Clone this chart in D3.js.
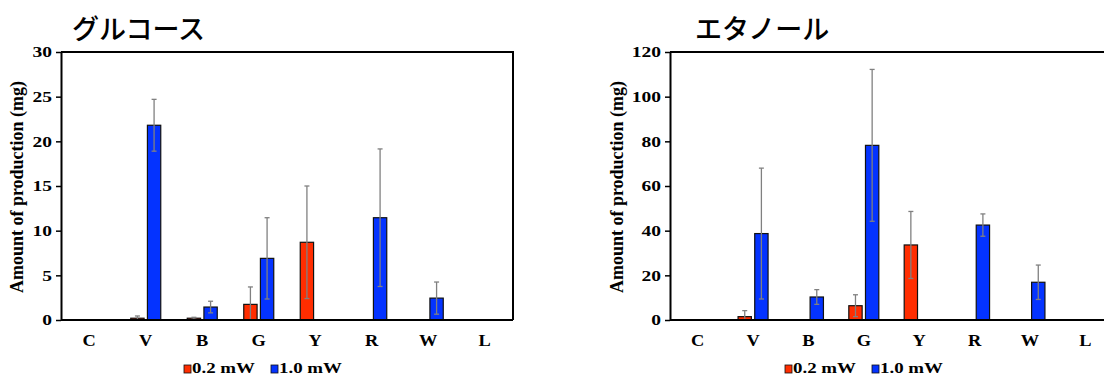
<!DOCTYPE html>
<html>
<head>
<meta charset="utf-8">
<script src="https://cdn.jsdelivr.net/npm/d3@7"></script>
<style>
  body { margin: 0; background: #fff; }
  svg { display: block; }
</style>
</head>
<body>
<svg width="1104" height="375"></svg>
<script>
// Data
const categories = ["C", "V", "B", "G", "Y", "R", "W", "L"];
const seriesNames = ["0.2 mW", "1.0 mW"];

const glucoseLow = [0, 0.2, 0.2, 1.75, 8.7, 0, 0, 0];
const glucoseLowErr = [0, 0.25, 0.1, 1.95, 6.3, 0, 0, 0];
const glucoseHigh = [0, 21.8, 1.45, 6.9, 0, 11.45, 2.45, 0];
const glucoseHighErr = [0, 2.9, 0.65, 4.55, 0, 7.7, 1.8, 0];

const ethanolLow = [0, 1.5, 0, 6.4, 33.6, 0, 0, 0];
const ethanolLowErr = [0, 2.7, 0, 4.9, 15, 0, 0, 0];
const ethanolHigh = [0, 38.7, 10.3, 78.2, 0, 42.5, 16.9, 0];
const ethanolHighErr = [0, 29.3, 3.3, 34, 0, 5, 7.7, 0];

const glucoseTicks = [0, 5, 10, 15, 20, 25, 30];
const ethanolTicks = [0, 20, 40, 60, 80, 100, 120];

const colors = ["#ff2d00", "#0433ff"];
const serif = "'Liberation Serif', 'Times New Roman', serif";

const svg = d3.select("svg");

// one panel = frame + bars + error bars + axes + legend
function drawPanel(opt) {
    const left = opt.left, right = opt.right, top = 52, bottom = 320;

    const x = d3.scaleBand().domain(categories).range([left, right]).padding(0);
    const xSub = d3.scaleBand().domain(seriesNames)
        .range([x.bandwidth() / 2 - 15, x.bandwidth() / 2 + 15])
        .paddingInner(0.2);
    const y = d3.scaleLinear().domain([0, opt.max]).range([bottom, top]);

    const g = svg.append("g");

    // bars
    const rows = [];
    categories.forEach((c, i) => {
        [opt.low, opt.high].forEach((vals, s) => {
            const errs = s == 0 ? opt.lowErr : opt.highErr;
            if (vals[i] > 0) rows.push({cat: c, s: s, v: vals[i], e: errs[i]});
        });
    });

    g.selectAll(".bar")
        .data(rows)
        .join("rect")
        .attr("class", "bar")
        .attr("x", d => x(d.cat) + xSub(seriesNames[d.s]))
        .attr("width", xSub.bandwidth())
        .attr("y", d => y(d.v))
        .attr("height", d => y(0) - y(d.v))
        .attr("fill", d => colors[d.s])
        .attr("stroke", "#111")
        .attr("stroke-width", 1.2);

    // error bars
    const eb = g.selectAll(".err")
        .data(rows)
        .join("g")
        .attr("class", "err")
        .attr("transform", d => `translate(${x(d.cat) + xSub(seriesNames[d.s]) + xSub.bandwidth() / 2},0)`)
        .attr("stroke", "#808080")
        .attr("stroke-width", 1.3);
    eb.append("line")
        .attr("y1", d => y(d.v + d.e))
        .attr("y2", d => y(Math.max(0, d.v - d.e)));
    eb.append("line")
        .attr("x1", -2.5).attr("x2", 2.5)
        .attr("y1", d => y(d.v + d.e)).attr("y2", d => y(d.v + d.e));
    eb.filter(d => d.v - d.e > 0).append("line")
        .attr("x1", -2.5).attr("x2", 2.5)
        .attr("y1", d => y(d.v - d.e)).attr("y2", d => y(d.v - d.e));

    // frame: top and right border
    g.append("path")
        .attr("d", `M${left},${top}H${right}V${bottom}`)
        .attr("fill", "none")
        .attr("stroke", "#000")
        .attr("stroke-width", 2);

    // zero line
    g.append("line")
        .attr("x1", left).attr("x2", right)
        .attr("y1", y(0)).attr("y2", y(0))
        .attr("stroke", "#000").attr("stroke-width", 2);

    // y axis
    const yAxis = g.append("g")
        .attr("transform", `translate(${left},0)`)
        .call(d3.axisLeft(y).tickValues(opt.ticks).tickSizeInner(5).tickSizeOuter(0).tickPadding(0));
    yAxis.select(".domain").attr("stroke-width", 2);
    yAxis.selectAll(".tick line").attr("stroke-width", 1.5);
    yAxis.selectAll(".tick text")
        .attr("x", 0)
        .attr("transform", "translate(-9,0) scale(1.3,1)")
        .style("font-family", serif)
        .style("font-weight", "bold")
        .style("font-size", "15px")
        .attr("fill", "#000");

    // x axis labels
    const xAxis = g.append("g")
        .attr("transform", `translate(0,${bottom})`)
        .call(d3.axisBottom(x).tickSize(0).tickPadding(15));
    xAxis.select(".domain").remove();
    xAxis.selectAll(".tick text")
        .attr("transform", "scale(1.15,1)")
        .style("font-family", serif)
        .style("font-weight", "bold")
        .style("font-size", "16px")
        .attr("fill", "#000");

    // y axis title
    g.append("text")
        .attr("transform", `translate(${opt.labelX},187) rotate(-90)`)
        .attr("text-anchor", "middle")
        .attr("dy", "0.35em")
        .style("font-family", serif)
        .style("font-weight", "bold")
        .style("font-size", "18px")
        .text("Amount of production (mg)");

    // panel title
    g.append("text")
        .attr("x", opt.titleX)
        .attr("y", 39)
        .style("font-family", "'Noto Sans CJK JP', sans-serif")
        .style("font-weight", 500)
        .style("font-size", "27px")
        .text(opt.title);

    // legend
    const legend = g.append("g").attr("class", "legend");
    const items = legend.selectAll(".legend-item")
        .data(seriesNames)
        .join("g")
        .attr("class", "legend-item")
        .attr("transform", (d, i) => `translate(${opt.legendX + i * 87},0)`);
    items.append("rect")
        .attr("x", 0).attr("y", 365)
        .attr("width", 7).attr("height", 8)
        .attr("fill", (d, i) => colors[i])
        .attr("stroke", "#111").attr("stroke-width", 0.8);
    items.append("text")
        .attr("transform", "translate(8,373) scale(1.35,1)")
        .style("font-family", serif)
        .style("font-weight", "bold")
        .style("font-size", "14px")
        .text(d => d);
}

drawPanel({
    left: 61, right: 513, max: 30, ticks: glucoseTicks,
    low: glucoseLow, lowErr: glucoseLowErr, high: glucoseHigh, highErr: glucoseHighErr,
    labelX: 17, title: "グルコース", titleX: 72, legendX: 184
});

drawPanel({
    left: 670, right: 1113, max: 120, ticks: ethanolTicks,
    low: ethanolLow, lowErr: ethanolLowErr, high: ethanolHigh, highErr: ethanolHighErr,
    labelX: 617, title: "エタノール", titleX: 695, legendX: 785
});
</script>
</body>
</html>
